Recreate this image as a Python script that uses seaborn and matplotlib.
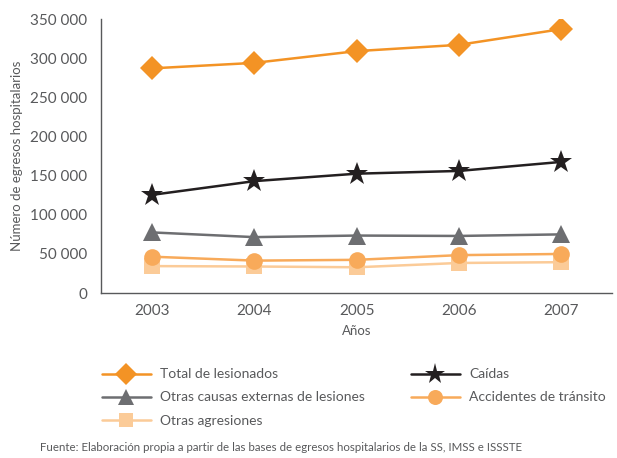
import matplotlib
matplotlib.use("Agg")
import pandas as pd
import seaborn as sns
import matplotlib.pyplot as plt
from matplotlib.ticker import FuncFormatter, FixedLocator

# Datos
anios = ["2003", "2004", "2005", "2006", "2007"]
total_lesionados = [287000, 294000, 309000, 317000, 337000]
caidas = [125500, 143000, 152500, 156000, 167500]
otras_causas = [77500, 71500, 73500, 73000, 75000]
accidentes_transito = [46500, 41500, 42500, 48500, 50000]
otras_agresiones = [34500, 34000, 33000, 38500, 39500]

series = [
    ("Total de lesionados", total_lesionados, "#F39325", "D", 12),
    ("Otras causas externas de lesiones", otras_causas, "#6D6E71", "^", 13),
    ("Otras agresiones", otras_agresiones, "#FBCB98", "s", 11),
    ("Caídas", caidas, "#231F20", "*", 17),
    ("Accidentes de tránsito", accidentes_transito, "#F8AA5A", "o", 12),
]

sns.set_style("white")
plt.rcParams["font.family"] = ["Lato", "DejaVu Sans"]

fig = plt.figure(figsize=(6.17, 4.58), dpi=100)
ax = fig.add_axes([0.164, 0.36, 0.828, 0.5985])

x = list(range(len(anios)))
for nombre, valores, color, marcador, tam in series:
    df = pd.DataFrame({"x": x, "y": valores})
    sns.lineplot(data=df, x="x", y="y", ax=ax, color=color, marker=marcador,
                 markersize=tam, markeredgewidth=0, linewidth=1.8, label=nombre)

gris = "#58595B"
ax.set_xlim(-0.5, len(anios) - 0.5)
ax.set_ylim(0, 350000)
ax.set_yticks(range(0, 350001, 50000))
ax.yaxis.set_major_formatter(FuncFormatter(lambda v, p: f"{int(v):,}".replace(",", " ")))
ax.set_xticks(x)
ax.set_xticklabels(anios)
ax.xaxis.set_minor_locator(FixedLocator([i - 0.5 for i in range(len(anios) + 1)]))
ax.tick_params(axis="x", which="major", length=0, pad=8, labelsize=11, colors=gris)
ax.tick_params(axis="x", which="minor", length=6, width=1, color=gris, direction="out")
ax.tick_params(axis="y", length=8, width=1, color=gris, pad=2, labelsize=11, labelcolor=gris)

for lado in ["top", "right"]:
    ax.spines[lado].set_visible(False)
for lado in ["left", "bottom"]:
    ax.spines[lado].set_color(gris)
    ax.spines[lado].set_linewidth(1)

ax.set_xlabel("Años", fontsize=9.5, color=gris, labelpad=5)
ax.set_ylabel("Número de egresos hospitalarios", fontsize=9.5, color=gris, labelpad=5)

handles, labels = ax.get_legend_handles_labels()
ax.legend_.remove()
fig.legend(handles, labels, ncol=2, loc="upper left", bbox_to_anchor=(0.145, 0.223),
           frameon=False, fontsize=10, handlelength=3.5, handletextpad=0.7,
           columnspacing=3.3, labelspacing=0.8, markerscale=0.9, labelcolor=gris)

fig.text(0.065, 0.015, "Fuente: Elaboración propia a partir de las bases de egresos hospitalarios de la SS, IMSS e ISSSTE",
         fontsize=8.3, color=gris)

fig.savefig("out.png", dpi=100)
